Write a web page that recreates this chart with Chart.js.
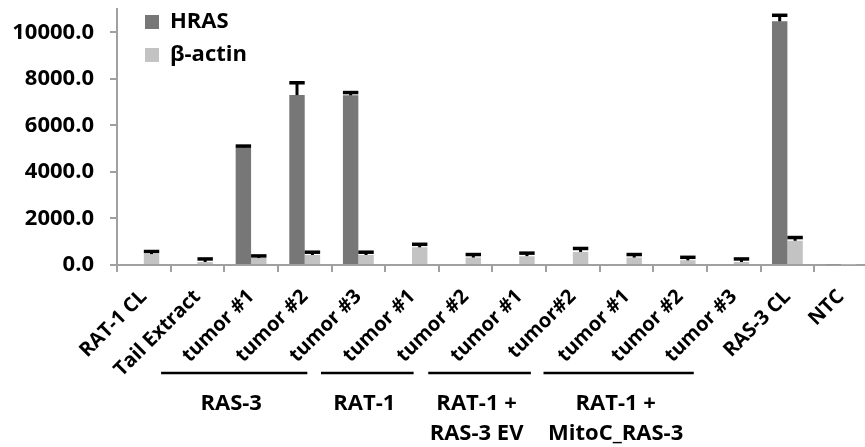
<!DOCTYPE html>
<html>
<head>
<meta charset="utf-8">
<script src="https://cdn.jsdelivr.net/npm/chart.js@4.4.1/dist/chart.umd.min.js"></script>
<style>
html,body{margin:0;padding:0;background:#fff;overflow:hidden}
canvas{display:block}
</style>
</head>
<body>
<canvas id="chart" width="871" height="447"></canvas>
<script>
// DATA
const categories=["RAT-1 CL","Tail Extract","tumor #1","tumor #2","tumor #3","tumor #1","tumor #2","tumor #1","tumor#2","tumor #1","tumor #2","tumor #3","RAS-3 CL","NTC"];
const hras=[40,40,5050,7300,7290,40,40,40,40,40,40,40,10470,30];
const hrasErr=[0,0,60,530,120,0,0,0,0,0,0,0,260,0];
const actin=[470,130,300,430,430,760,320,380,560,320,200,130,1040,20];
const actinErr=[110,130,90,120,120,130,130,130,150,130,130,130,140,0];
const yTicks=[0,2000,4000,6000,8000,10000];

// group labels under the axis
const groupNames=[["RAS-3"],["RAT-1"],["RAT-1 +","RAS-3 EV"],["RAT-1 +","MitoC_RAS-3"]];
const groupFrom=[2,5,7,9];
const groupTo=[4,6,8,11];

const font={family:"'Open Sans', sans-serif",size:22,weight:"bold"};
const xFont={family:"'Open Sans', sans-serif",size:20,weight:"bold"};
const axisGray="#a0a0a0";

// error bars, drawn like excel: stem + cap as wide as the bar
const errorBars={
id:"errorBars",
afterDatasetsDraw(c){
const ctx=c.ctx, y=c.scales.y;
[hrasErr,actinErr].forEach((errs,di)=>{
c.getDatasetMeta(di).data.forEach((bar,i)=>{
const e=errs[i];
if(!e) return;
const v=c.data.datasets[di].data[i];
const top=y.getPixelForValue(v+e);
ctx.save();
ctx.strokeStyle="#000";
ctx.lineWidth=3;
ctx.beginPath();
ctx.moveTo(bar.x,bar.y);
ctx.lineTo(bar.x,top);
ctx.stroke();
ctx.lineWidth=3.5;
ctx.beginPath();
ctx.moveTo(bar.x-bar.width/2,top);
ctx.lineTo(bar.x+bar.width/2,top);
ctx.stroke();
ctx.restore();
});
});
}
};

// brackets + group names below the rotated labels
const groupLabels={
id:"groupLabels",
afterDraw(c){
const ctx=c.ctx, x=c.scales.x;
const shiftL=[90,91,91,83], shiftR=[51,52,42,40];
ctx.save();
ctx.strokeStyle="#000";
ctx.fillStyle="#000";
ctx.lineWidth=2.5;
ctx.font="bold 22px 'Open Sans', sans-serif";
ctx.textAlign="center";
ctx.textBaseline="middle";
groupNames.forEach((lines,g)=>{
const x0=x.getPixelForValue(groupFrom[g])-shiftL[g];
const x1=x.getPixelForValue(groupTo[g])-shiftR[g];
ctx.beginPath();
ctx.moveTo(x0,373);
ctx.lineTo(x1,373);
ctx.stroke();
lines.forEach((t,k)=>ctx.fillText(t,(x0+x1)/2-3,404+k*30));
});
ctx.restore();
}
};

// move the in-plot legend a bit right of the axis
const legendShift={
id:"legendShift",
afterLayout(c){ if(c.legend) c.legend.left+=17; }
};

new Chart(document.getElementById("chart"),{
type:"bar",
data:{
labels:categories,
datasets:[
{label:"HRAS",data:hras,backgroundColor:"#777777",borderWidth:0,categoryPercentage:0.575,barPercentage:1},
{label:"β-actin",data:actin,backgroundColor:"#c3c3c3",borderWidth:0,categoryPercentage:0.575,barPercentage:1}
]
},
options:{
responsive:false,
animation:false,
devicePixelRatio:1,
layout:{padding:{left:0,top:9,right:0,bottom:0}},
plugins:{
legend:{
position:"chartArea",
align:"start",
labels:{font,color:"#000",boxWidth:14,boxHeight:14,padding:11}
},
tooltip:{enabled:false}
},
scales:{
x:{
afterFit:s=>{s.height=182;},
ticks:{autoSkip:false,minRotation:45,maxRotation:45,color:"#000",font:xFont,padding:13},
grid:{offset:true,drawOnChartArea:false,tickLength:7,color:axisGray,lineWidth:2},
border:{color:axisGray,width:2}
},
y:{
min:0,
max:11000,
afterBuildTicks:s=>{s.ticks=yTicks.map(v=>({value:v}));},
afterFit:s=>{s.paddingTop=0;s.width=117;},
ticks:{color:"#000",font,padding:16,callback:v=>v.toFixed(1)},
grid:{drawOnChartArea:false,tickLength:7,color:axisGray,lineWidth:2},
border:{color:axisGray,width:2}
}
}
},
plugins:[errorBars,groupLabels,legendShift]
});
</script>
</body>
</html>
